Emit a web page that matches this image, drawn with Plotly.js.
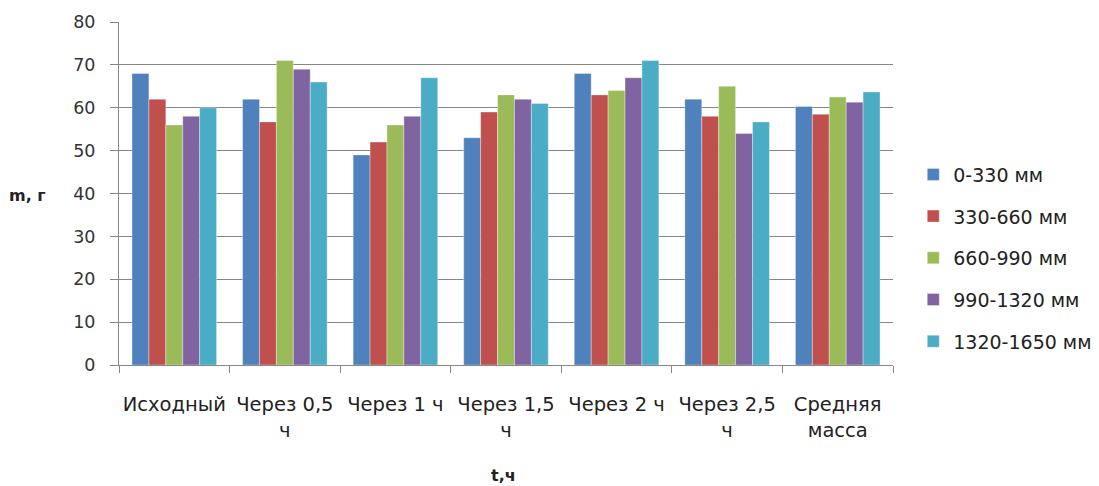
<!DOCTYPE html>
<html><head><meta charset="utf-8">
<script src="https://cdn.plot.ly/plotly-3.0.1.min.js"></script>
<style>html,body{margin:0;padding:0;background:#fff}#chart{width:1099px;height:486px}</style>
</head><body><div id="chart"></div>
<script>
const categories = ["Исходный", "Через 0,5<br>ч", "Через 1 ч", "Через 1,5<br>ч", "Через 2 ч", "Через 2,5<br>ч", "Средняя<br>масса"];
const seriesNames = ["0-330 мм", "330-660 мм", "660-990 мм", "990-1320 мм", "1320-1650 мм"];
const s1 = [68, 62, 49, 53, 68, 62, 60.3];
const s2 = [62, 56.7, 52, 59, 63, 58, 58.5];
const s3 = [56, 71, 56, 63, 64, 65, 62.5];
const s4 = [58, 69, 58, 62, 67, 54, 61.3];
const s5 = [60, 66, 67, 61, 71, 56.7, 63.7];
const yTicks = [0, 10, 20, 30, 40, 50, 60, 70, 80];
const colors = ["#4F81BD", "#C0504D", "#9BBB59", "#8064A2", "#4BACC6"];
const values = [s1, s2, s3, s4, s5];

const traces = values.map((v, i) => ({
  type: "bar", x: categories, y: v, name: seriesNames[i],
  legendgroup: "g" + i,
  marker: {color: colors[i], line: {color: "rgba(255,255,255,0.35)", width: 1}},
  hoverinfo: "y"
}));

const layout = {
  width: 1099, height: 486,
  margin: {l: 119, r: 206, t: 22, b: 121},
  paper_bgcolor: "#fff", plot_bgcolor: "#fff",
  barmode: "group", bargap: 0.235, bargroupgap: 0,
  font: {family: "DejaVu Sans, sans-serif", color: "#333"},
  xaxis: {
    type: "category", showline: true, linecolor: "#868686", linewidth: 1,
    ticks: "outside", ticklen: 7, tickcolor: "#868686", tickson: "boundaries",
    showgrid: false, tickangle: 0, ticklabelstandoff: 22,
    tickfont: {family: "DejaVu Sans, sans-serif", size: 19.5, color: "#222"}
  },
  yaxis: {
    range: [0, 80], tickvals: yTicks, ticktext: yTicks.map(String),
    showline: true, linecolor: "#868686", linewidth: 1,
    ticks: "outside", ticklen: 8, tickcolor: "#868686", ticklabelstandoff: 11,
    showgrid: true, gridcolor: "#868686", gridwidth: 1, zeroline: false,
    tickfont: {family: "DejaVu Sans, sans-serif", size: 17.5, color: "#333"}
  },
  annotations: [
    {text: "<b>m, г</b>", xref: "paper", yref: "paper", x: -0.1176, y: 0.4956,
     xanchor: "center", yanchor: "middle", showarrow: false,
     font: {family: "DejaVu Sans, sans-serif", size: 16, color: "#222"}},
    {text: "<b>t,ч</b>", xref: "paper", yref: "paper", x: 0.497, y: -0.3236,
     xanchor: "center", yanchor: "middle", showarrow: false,
     font: {family: "DejaVu Sans, sans-serif", size: 16, color: "#222"}}
  ],
  showlegend: true,
  legend: {
    xref: "container", yref: "container",
    x: 0.831, xanchor: "left", y: 0.469, yanchor: "middle",
    traceorder: "grouped", tracegroupgap: 14,
    font: {family: "DejaVu Sans, sans-serif", size: 19, color: "#222"},
    itemwidth: 30, bgcolor: "rgba(0,0,0,0)"
  }
};

Plotly.newPlot("chart", traces, layout, {staticPlot: true, displayModeBar: false});
</script>
</body></html>
